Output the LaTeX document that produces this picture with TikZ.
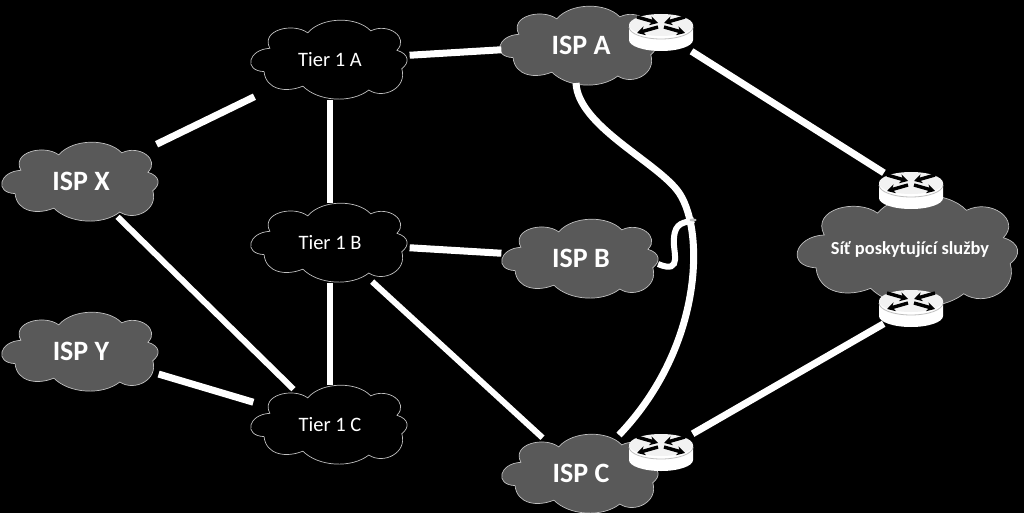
\documentclass[tikz,border=0pt]{standalone}
\usepackage{fontspec}
\setmainfont{Carlito}
\usetikzlibrary{shapes.geometric,arrows.meta}

\definecolor{cloudgray}{HTML}{595959}
\definecolor{rimgray}{HTML}{BFBFBF}
\definecolor{routertop}{HTML}{F2F2F2}

\tikzset{
    netcloud/.pic={
        \draw[pic actions, scale=.97] (-68,13) .. controls (-90,12) and (-84,-10) .. (-62,-11)
            .. controls (-72,-30) and (-38,-38) .. (-23,-27)
            .. controls (-8,-44) and (28,-44) .. (42,-29)
            .. controls (60,-38) and (82,-22) .. (69,-9)
            .. controls (82,-5) and (82,4) .. (74,10)
            .. controls (80,30) and (55,42) .. (40,32)
            .. controls (22,46) and (-12,44) .. (-28,28)
            .. controls (-45,35) and (-66,32) .. (-68,13) -- cycle;
    },
    routerpic/.pic={
        \fill[white] (-32,-7) -- (-32,8) arc[start angle=180, end angle=0, x radius=32, y radius=11] -- (32,-7) -- cycle;
        \draw[rimgray, line width=0.8pt] (-32,-5) arc[start angle=180, end angle=0, x radius=32, y radius=12];
        \fill[routertop] (0,-7) ellipse[x radius=32, y radius=11];
        \foreach \sx in {1,-1} {
            \draw[routerarrow] (\sx*3,-5) -- (\sx*24,1);
            \draw[routerarrow] (\sx*24,-15) -- (\sx*3,-9);
        }
    },
    routerarrow/.style={line width=3.4pt, -{Stealth[length=8pt,width=9pt]}, black},
    ispcloud/.style={fill=cloudgray, draw=rimgray, line width=0.7pt},
    tiercloud/.style={fill=black, draw=rimgray, line width=0.7pt},
    cloudnode/.style={ellipse, inner sep=0pt, minimum width=160pt, minimum height=80pt, text=white},
    isplabel/.style={cloudnode, font=\fontsize{28}{30}\selectfont\bfseries},
    tierlabel/.style={cloudnode, font=\fontsize{20.5}{22}\selectfont},
    routerbox/.style={ellipse, inner sep=0pt, minimum width=64pt, minimum height=44pt},
    link/.style={white, line width=7pt},
    thinlink/.style={white, line width=6pt}
}

\begin{document}
\begin{tikzpicture}[x=1pt, y=-1pt]
\useasboundingbox[fill=black] (0,0) rectangle (1024,513);

% Clouds
\pic[tiercloud] at (330,59) {netcloud};
\pic[tiercloud] at (330,242) {netcloud};
\pic[tiercloud] at (330,424) {netcloud};
\pic[ispcloud] at (81,181) {netcloud};
\pic[ispcloud] at (81,351) {netcloud};
\pic[ispcloud] at (579,45) {netcloud};
\pic[ispcloud] at (581,258) {netcloud};
\pic[ispcloud] at (581,473) {netcloud};
\pic[ispcloud, scale=1.41] at (909,250) {netcloud};

% Labels
\node[tierlabel] (tierA) at (330,60) {Tier 1 A};
\node[tierlabel] (tierB) at (330,243) {Tier 1 B};
\node[tierlabel] (tierC) at (330,425) {Tier 1 C};
\node[isplabel] (ispX) at (81,181) {ISP X};
\node[isplabel] (ispY) at (81,351) {ISP Y};
\node[isplabel] (ispA) at (581,45) {ISP A};
\node[isplabel] (ispB) at (581,258) {ISP B};
\node[isplabel] (ispC) at (581,473) {ISP C};
\node[cloudnode, font=\fontsize{18.4}{21}\selectfont\bfseries] (service) at (910,250) {Síť poskytující služby};

% Routers
\node[routerbox] (routerA) at (661,32) {};
\node[routerbox] (routerC) at (661,452) {};
\node[routerbox] (routerUp) at (911,190) {};
\node[routerbox] (routerDown) at (911,308) {};
\pic at (661,32) {routerpic};
\pic at (661,452) {routerpic};
\pic at (911,190) {routerpic};
\pic at (911,308) {routerpic};

% Links
\draw[link, shorten <=20pt, shorten >=20pt] (ispX) -- (tierA);
\draw[link] (tierA) -- (ispA);
\draw[link] (tierB) -- (ispB);
\draw[thinlink] (tierA) -- (tierB);
\draw[thinlink] (tierB) -- (tierC);
\draw[thinlink, shorten <=5pt] (tierB) -- (ispC);
\draw[thinlink] (ispX) -- (tierC);
\draw[link, shorten <=9pt, shorten >=8pt] (ispY) -- (tierC);
\draw[link, shorten <=8pt, shorten >=4pt] (routerA) -- (routerUp);
\draw[link, shorten <=8pt, shorten >=3pt] (routerC) -- (routerDown);

% Curved links
\coordinate (splice) at (694,220);
\draw[link] (576,83) .. controls (578,125) and (653,160) .. (677,190)
    .. controls (705,225) and (705,345) .. (619,435);
\draw[thinlink] (658,264) .. controls (684,275) and (672,250) .. (674,238)
    .. controls (675,222) and (684,223) .. (splice);
\fill[rimgray] (693,220) ellipse[x radius=3.5pt, y radius=1.5pt];
\end{tikzpicture}
\end{document}
